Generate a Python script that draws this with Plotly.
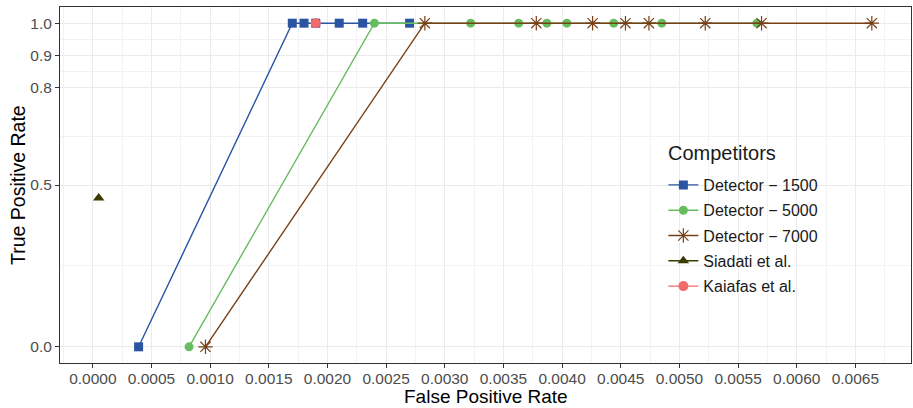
import plotly.graph_objects as go

# Data
det1500_fpr = [0.00039, 0.0017, 0.0018, 0.0019, 0.0021, 0.0023, 0.0027]
det1500_tpr = [0.0, 1.0, 1.0, 1.0, 1.0, 1.0, 1.0]
det5000_fpr = [0.00082, 0.0024, 0.00322, 0.00363, 0.00387, 0.00404, 0.00444, 0.00485, 0.00566]
det5000_tpr = [0.0, 1.0, 1.0, 1.0, 1.0, 1.0, 1.0, 1.0, 1.0]
det7000_fpr = [0.00096, 0.00283, 0.00378, 0.00426, 0.00454, 0.00474, 0.00522, 0.0057, 0.00664]
det7000_tpr = [0.0, 1.0, 1.0, 1.0, 1.0, 1.0, 1.0, 1.0, 1.0]
siadati_fpr = [0.00005]
siadati_tpr = [0.46]
kaiafas_fpr = [0.0019]
kaiafas_tpr = [1.0]

x_ticks = [i * 0.0005 for i in range(14)]
x_ticklabels = ["%.4f" % v for v in x_ticks]
y_ticks = [0.0, 0.5, 0.8, 0.9, 1.0]
y_ticklabels = ["0.0", "0.5", "0.8", "0.9", "1.0"]
y_minor = [0.25, 0.65, 0.85, 0.95]

FONT = "Liberation Sans, Arial, sans-serif"

# plot-area geometry in pixels (used to place legend pieces)
L, R, T, B = 60, 2, 7, 45
W, H = 913, 408
PW, PH = W - L - R, H - T - B


def px_x(x):
    return (x - L) / PW


def px_y(y):
    return (H - B - y) / PH


fig = go.Figure()
fig.add_trace(go.Scatter(x=det1500_fpr, y=det1500_tpr, mode="lines+markers",
                         name="Detector \u2212 1500", legendgroup="a",
                         line=dict(color="#2B54A2", width=1.4),
                         marker=dict(symbol="square", size=9, color="#2B54A2")))
fig.add_trace(go.Scatter(x=det5000_fpr, y=det5000_tpr, mode="lines+markers",
                         name="Detector \u2212 5000", legendgroup="b",
                         line=dict(color="#66BD5E", width=1.4),
                         marker=dict(symbol="circle", size=9, color="#66BD5E")))
fig.add_trace(go.Scatter(x=det7000_fpr, y=det7000_tpr, mode="lines+markers",
                         name="Detector \u2212 7000", legendgroup="c",
                         line=dict(color="#774118", width=1.4),
                         marker=dict(symbol="asterisk-open", size=12, color="#774118",
                                     line=dict(color="#774118", width=1.2))))
fig.add_trace(go.Scatter(x=siadati_fpr, y=siadati_tpr, mode="lines+markers",
                         name="Siadati et al.", legendgroup="d",
                         line=dict(color="#3B3B00", width=1.4),
                         marker=dict(symbol="triangle-up", size=10, color="#3B3B00")))
fig.add_trace(go.Scatter(x=kaiafas_fpr, y=kaiafas_tpr, mode="lines+markers",
                         name="Kaiafas et al.", legendgroup="e",
                         line=dict(color="#F26B6B", width=1.4),
                         marker=dict(symbol="circle", size=10, color="#F26B6B")))

fig.update_layout(
    width=W, height=H,
    margin=dict(l=L, r=R, t=T, b=B),
    paper_bgcolor="white", plot_bgcolor="white",
    font=dict(family=FONT, color="#000000"),
    legend=dict(
        font=dict(size=16, color="#1A1A1A"),
        x=0.709, y=px_y(168), xanchor="left", yanchor="top",
        bgcolor="rgba(0,0,0,0)", borderwidth=0,
        tracegroupgap=1.5, traceorder="grouped",
    ),
    xaxis=dict(
        range=[-0.00028, 0.006974], automargin=False,
        tickmode="array", tickvals=x_ticks, ticktext=x_ticklabels,
        tickfont=dict(size=15.5, color="#4D4D4D"), ticklabelstandoff=-3,
        ticks="outside", ticklen=4, tickcolor="#333333", tickwidth=1,
        showgrid=True, gridcolor="#EBEBEB", gridwidth=1.1,
        minor=dict(dtick=0.00025, tick0=0.00025, showgrid=True, gridcolor="#F2F2F2", gridwidth=0.6, ticks=""),
        showline=True, linecolor="#333333", linewidth=1, mirror=True,
        zeroline=False,
    ),
    yaxis=dict(
        range=[-0.05, 1.05], automargin=False,
        tickmode="array", tickvals=y_ticks, ticktext=y_ticklabels,
        tickfont=dict(size=15.5, color="#4D4D4D"),
        ticks="outside", ticklen=4, tickcolor="#333333", tickwidth=1,
        showgrid=True, gridcolor="#EBEBEB", gridwidth=1.1,
        minor=dict(tickmode="array", tickvals=y_minor, showgrid=True, gridcolor="#F2F2F2", gridwidth=0.6, ticks=""),
        showline=True, linecolor="#333333", linewidth=1, mirror=True,
        zeroline=False,
    ),
    shapes=[
        dict(type="rect", xref="paper", yref="paper", layer="between",
             x0=px_x(657), x1=px_x(825), y0=px_y(306), y1=px_y(133),
             fillcolor="white", line=dict(width=0)),
    ],
    annotations=[
        dict(text="Competitors", xref="paper", yref="paper", x=px_x(666), y=px_y(152.5),
             xanchor="left", yanchor="middle", showarrow=False,
             font=dict(size=20, color="#1A1A1A")),
        dict(text="False Positive Rate", xref="paper", yref="paper", x=0.5, y=0,
             xanchor="center", yanchor="middle", yshift=-33.5, showarrow=False,
             font=dict(size=19, color="#000000")),
        dict(text="True Positive Rate", xref="paper", yref="paper", x=0, y=0.5,
             xanchor="center", yanchor="middle", xshift=-42, showarrow=False, textangle=-90,
             font=dict(size=19.5, color="#000000")),
    ],
)

fig.write_html("out.html", config={"displayModeBar": False},
               post_script="document.body.style.margin='0';document.body.style.padding='0';document.body.style.overflow='hidden';")
